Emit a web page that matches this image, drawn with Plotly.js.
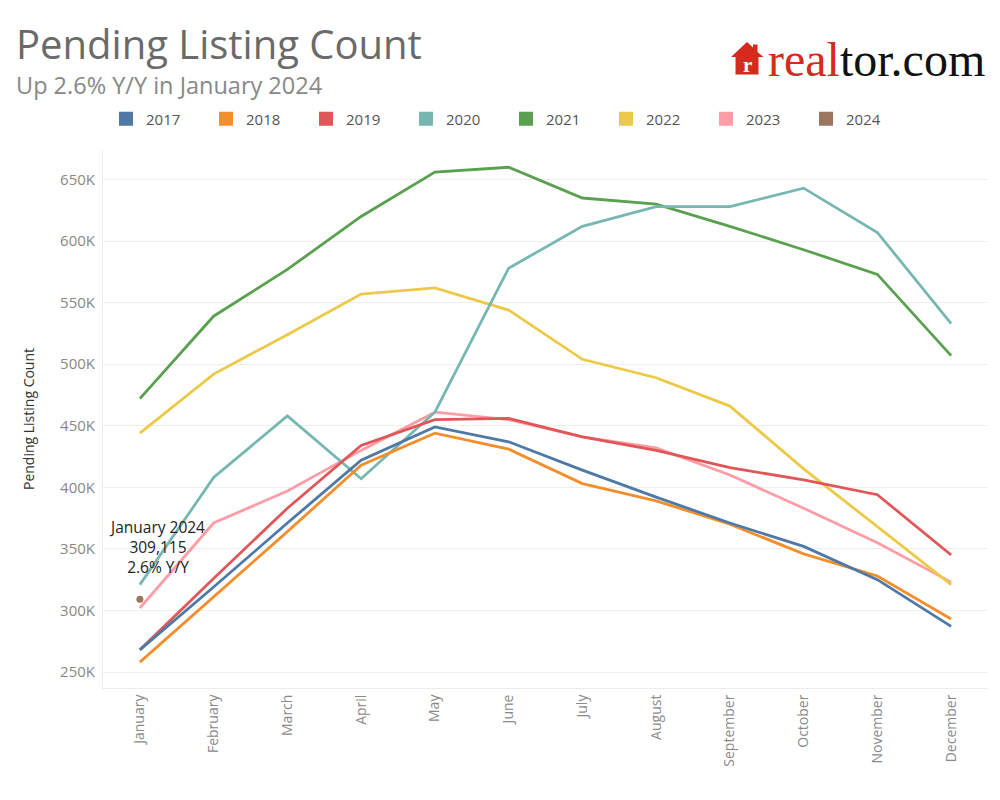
<!DOCTYPE html>
<html>
<head>
<meta charset="utf-8">
<script src="https://cdn.plot.ly/plotly-3.0.1.min.js"></script>
<style>html,body{margin:0;padding:0;background:#fff;}#chart{width:1000px;height:800px;}</style>
</head>
<body>
<div id="chart"></div>
<script>
// ---- data (values in thousands) ----
const months = ['January','February','March','April','May','June','July','August','September','October','November','December'];
const years = ['2017','2018','2019','2020','2021','2022','2023','2024'];
const colors = ['#4e79a7','#f28e2b','#e15759','#76b7b2','#59a14f','#edc948','#ff9da7','#9c755f'];
const y2017 = [268, 319, 371, 422, 449, 437, 414, 392, 371, 352, 325, 287];
const y2018 = [258, 311, 364, 418, 444, 431, 403, 389, 370, 346, 328, 293];
const y2019 = [268, 326, 383, 434, 455, 456, 441, 430, 416, 406, 394, 345];
const y2020 = [321, 408, 458, 407, 461, 578, 612, 628, 628, 643, 607, 533];
const y2021 = [472, 539, 577, 620, 656, 660, 635, 630, 612, 593, 573, 507];
const y2022 = [444, 492, 524, 557, 562, 544, 504, 489, 466, 415, 368, 321];
const y2023 = [302, 371, 397, 430, 461, 455, 441, 432, 410, 383, 355, 323];
const y2024 = [309.115];
const series = [y2017, y2018, y2019, y2020, y2021, y2022, y2023, y2024];
const tickVals = [250, 300, 350, 400, 450, 500, 550, 600, 650];
const tickText = ['250K','300K','350K','400K','450K','500K','550K','600K','650K'];
const calloutText = 'January 2024<br>309,115<br>2.6% Y/Y';

const traces = [];
// line traces (drawn in reverse so earlier years sit on top)
for (let i = series.length - 1; i >= 0; i--) {
  const vals = series[i];
  const isPoint = vals.length === 1;
  traces.push({
    type: 'scatter',
    x: months.slice(0, vals.length),
    y: vals,
    mode: isPoint ? 'markers' : 'lines',
    line: {color: colors[i], width: 2.8},
    marker: {color: colors[i], size: 7},
    name: years[i],
    showlegend: false,
    hoverinfo: 'x+y+name'
  });
}
// legend entries as squares
years.forEach((yr, i) => {
  traces.push({
    type: 'scatter', x: [null], y: [null], mode: 'markers',
    marker: {symbol: 'square', size: 14, color: colors[i]},
    name: yr, showlegend: true, hoverinfo: 'skip'
  });
});

// helpers to convert pixel positions into paper coords
const L = 103, R = 12, T = 150, B = 112, W = 1000, H = 800;
const px = v => (v - L) / (W - L - R);
const py = v => (H - B - v) / (H - T - B);

const housePath = 'M ' + px(731) + ' ' + py(57) +
  ' L ' + px(747) + ' ' + py(42) +
  ' L ' + px(753) + ' ' + py(47.5) +
  ' L ' + px(753) + ' ' + py(44.5) +
  ' L ' + px(757.5) + ' ' + py(44.5) +
  ' L ' + px(757.5) + ' ' + py(52) +
  ' L ' + px(763.5) + ' ' + py(57) +
  ' L ' + px(758.5) + ' ' + py(57) +
  ' L ' + px(758.5) + ' ' + py(74.5) +
  ' L ' + px(735.5) + ' ' + py(74.5) +
  ' L ' + px(735.5) + ' ' + py(57) + ' Z';

const layout = {
  width: W, height: H, autosize: false,
  margin: {l: L, r: R, t: T, b: B},
  paper_bgcolor: '#ffffff', plot_bgcolor: '#ffffff',
  font: {family: 'Open Sans, sans-serif', color: '#666'},
  title: {
    text: 'Pending Listing Count',
    xref: 'container', yref: 'container',
    x: 0.016, xanchor: 'left', y: 1 - 45/800, yanchor: 'middle',
    font: {family: 'Open Sans, sans-serif', size: 40, color: '#6a6a6a'}
  },
  showlegend: true,
  legend: {
    orientation: 'h', x: px(106), xanchor: 'left', y: py(119), yanchor: 'middle',
    font: {size: 15, color: '#555'}, entrywidth: 55, itemclick: false,
    bgcolor: 'rgba(0,0,0,0)'
  },
  xaxis: {
    type: 'category', range: [-0.5, 11.5], tickangle: -90,
    showgrid: false, zeroline: false, showline: true, linecolor: '#ececec', linewidth: 1,
    ticks: '', tickfont: {size: 14, color: '#8a8a8a'}, fixedrange: true
  },
  yaxis: {
    range: [237, 674], tickvals: tickVals, ticktext: tickText,
    showgrid: true, gridcolor: '#eeeeee', gridwidth: 1, zeroline: false,
    showline: true, linecolor: '#ececec', ticks: '', ticklabelstandoff: 4,
    tickfont: {size: 15, color: '#888'},
    title: {text: 'Pending Listing Count', font: {size: 14, color: '#333'}, standoff: 22},
    fixedrange: true
  },
  shapes: [
    {type: 'path', xref: 'paper', yref: 'paper', path: housePath,
     fillcolor: '#d52b1e', line: {width: 0}}
  ],
  annotations: [
    {xref: 'paper', yref: 'paper', x: px(14), y: py(85), xanchor: 'left', yanchor: 'middle',
     text: 'Up 2.6% Y/Y in January 2024', showarrow: false,
     font: {family: 'Open Sans, sans-serif', size: 23.5, color: '#888'}},
    {xref: 'paper', yref: 'paper', x: px(766), y: py(59), xanchor: 'left', yanchor: 'middle',
     text: '<span style="color:#d52b1e">real</span>tor.com', showarrow: false,
     font: {family: 'Liberation Serif, DejaVu Serif, serif', size: 48, color: '#111'}},
    {xref: 'paper', yref: 'paper', x: px(747), y: py(65), xanchor: 'center', yanchor: 'middle',
     text: '<b>r</b>', showarrow: false,
     font: {family: 'Liberation Serif, serif', size: 21, color: '#ffffff'}},
    {x: months[0], y: y2024[0], xshift: 17, yshift: 19, xanchor: 'center', yanchor: 'bottom',
     text: calloutText, showarrow: false, align: 'center',
     font: {family: 'Open Sans, sans-serif', size: 15.5, color: '#222'}}
  ]
};

Plotly.newPlot('chart', traces, layout, {displayModeBar: false, staticPlot: false});
</script>
</body>
</html>
